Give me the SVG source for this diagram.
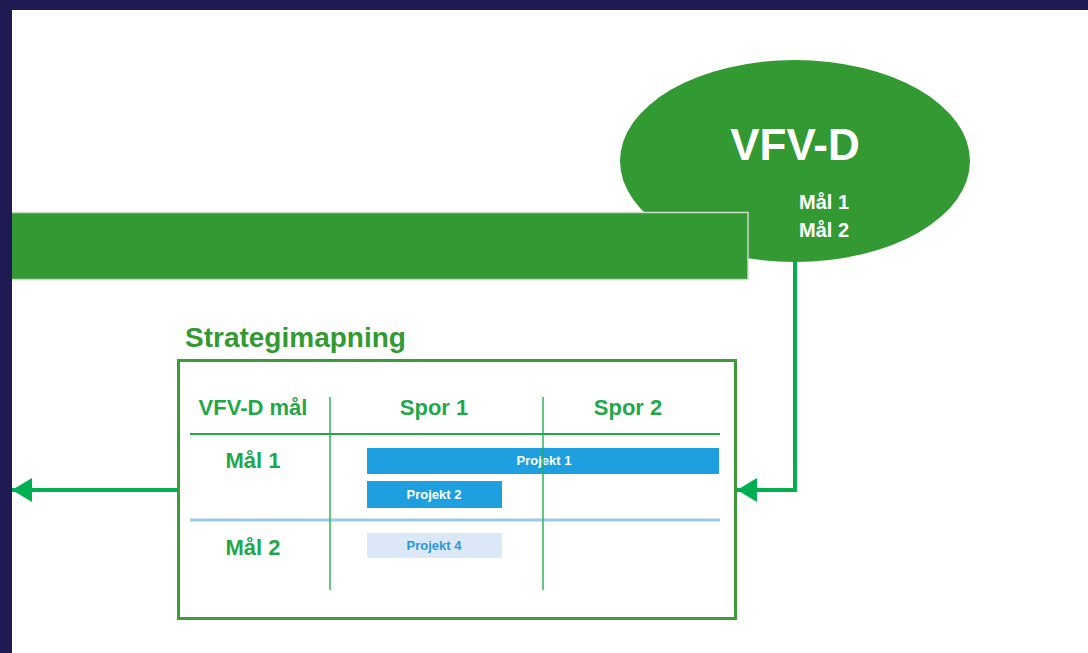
<svg xmlns="http://www.w3.org/2000/svg" width="1088" height="653" viewBox="0 0 1088 653">
<style>
.t{font-family:"Liberation Sans",Arial,sans-serif;font-weight:bold}
.g{fill:#1fa84a}
.hd{font-size:22px}
.pj{font-size:13px;fill:#fff}
.conn{stroke:#00b050;stroke-width:4;fill:none}
</style>
<defs>
<marker id="ah" markerWidth="5" markerHeight="6" refX="5" refY="3" orient="auto" markerUnits="strokeWidth">
<path d="M0,0 L5,3 L0,6 Z" fill="#00b050"/>
</marker>
</defs>
<rect width="1088" height="653" fill="#1f1a52"/>
<rect x="12" y="10" width="1076" height="643" fill="#fff"/>
<g id="vfvd">
<ellipse cx="795" cy="161" rx="175" ry="101" fill="#339933"/>
<text class="t" x="795" y="160" font-size="44" fill="#fff" text-anchor="middle">VFV-D</text>
<text class="t" x="824" y="209" font-size="20" fill="#fff" text-anchor="middle">Mål 1</text>
<text class="t" x="824" y="237" font-size="20" fill="#fff" text-anchor="middle">Mål 2</text>
</g>
<g id="bar">
<rect x="12" y="212.5" width="736" height="67" fill="#339933"/>
<path d="M12,212.5 H748 V279.5 H12" fill="none" stroke="#c8dcc8" stroke-width="1.5"/>
</g>
<g id="strategimapning">
<text class="t" x="185" y="347" font-size="28" fill="#339933">Strategimapning</text>
<rect x="178.5" y="360.5" width="557" height="258" fill="#fff" stroke="#3a9d3a" stroke-width="3"/>
<text class="t g hd" x="253" y="415" text-anchor="middle" font-size="20">VFV-D mål</text>
<text class="t g hd" x="434" y="415" text-anchor="middle">Spor 1</text>
<text class="t g hd" x="628" y="415" text-anchor="middle">Spor 2</text>
<line x1="190" y1="434" x2="720" y2="434" stroke="#1fa84a" stroke-width="2"/>
<line x1="190" y1="520" x2="720" y2="520" stroke="#9dc9ec" stroke-width="3"/>
<text class="t g hd" x="253" y="468" text-anchor="middle">Mål 1</text>
<text class="t g hd" x="253" y="555" text-anchor="middle">Mål 2</text>
<g id="projekt1"><rect x="367" y="448" width="352" height="26" fill="#1ea0e0"/><text class="t pj" x="544" y="465" text-anchor="middle">Projekt 1</text></g>
<g id="projekt2"><rect x="367" y="481" width="135" height="27" fill="#1ea0e0"/><text class="t pj" x="434" y="499" text-anchor="middle">Projekt 2</text></g>
<g id="projekt4"><rect x="367" y="533" width="135" height="25" fill="#dae8f7"/><text class="t pj" x="434" y="550" text-anchor="middle" style="fill:#2e96d8">Projekt 4</text></g>
<line x1="330" y1="397" x2="330" y2="590" stroke="#1fb050" stroke-opacity="0.7" stroke-width="2"/>
<line x1="543" y1="397" x2="543" y2="590" stroke="#1fb050" stroke-opacity="0.7" stroke-width="2"/>
</g>
<g id="connectors">
<path class="conn" d="M795,262 V490 H737" marker-end="url(#ah)"/>
<path class="conn" d="M178,490 H12" marker-end="url(#ah)"/>
</g>
</svg>
